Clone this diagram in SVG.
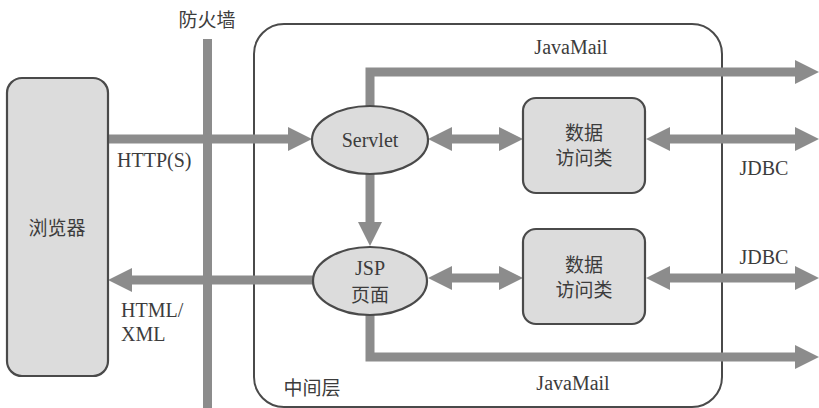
<svg xmlns="http://www.w3.org/2000/svg" width="819" height="408" viewBox="0 0 819 408">
  <style>
    .node { fill: #dcdcdc; stroke: #4a4a4a; stroke-width: 2.2; }
    .frame { fill: none; stroke: #4a4a4a; stroke-width: 2; }
    .pipe { fill: none; stroke: #8c8c8c; stroke-width: 9; }
    .lat { font-family: 'Liberation Serif', 'DejaVu Serif', serif; font-size: 20px; fill: #3c3c3c; }
    .cjk { font-family: 'Noto Sans CJK SC', 'Noto Sans', sans-serif; font-size: 19px; fill: #3c3c3c; }
  </style>
  <defs>
    <marker id="head" markerUnits="userSpaceOnUse" markerWidth="24" markerHeight="24" refX="0" refY="12" orient="auto-start-reverse">
      <path d="M0,0 L24,12 L0,24 z" fill="#8c8c8c"/>
    </marker>
  </defs>

  <rect width="819" height="408" fill="#ffffff"/>

  <!-- firewall -->
  <g id="firewall">
    <rect x="203" y="39" width="9" height="369" fill="#8c8c8c"/>
    <text class="cjk" x="207" y="27" text-anchor="middle">防火墙</text>
  </g>

  <!-- middle tier boundary -->
  <g id="middle-tier">
    <rect class="frame" x="254" y="24" width="468" height="383" rx="30"/>
    <text class="cjk" x="312" y="395" text-anchor="middle">中间层</text>
  </g>

  <!-- connectors -->
  <g id="connectors">
    <line class="pipe" x1="108" y1="139" x2="288" y2="139" marker-end="url(#head)"/>
    <polyline class="pipe" points="370,107 370,72 795,72" marker-end="url(#head)"/>
    <line class="pipe" x1="452" y1="139" x2="499" y2="139" marker-start="url(#head)" marker-end="url(#head)"/>
    <line class="pipe" x1="670" y1="139" x2="795" y2="139" marker-start="url(#head)" marker-end="url(#head)"/>
    <line class="pipe" x1="370" y1="174" x2="370" y2="222" marker-end="url(#head)"/>
    <line class="pipe" x1="313" y1="280" x2="132" y2="280" marker-end="url(#head)"/>
    <line class="pipe" x1="452" y1="278" x2="499" y2="278" marker-start="url(#head)" marker-end="url(#head)"/>
    <line class="pipe" x1="670" y1="278" x2="795" y2="278" marker-start="url(#head)" marker-end="url(#head)"/>
    <polyline class="pipe" points="370,314 370,357 795,357" marker-end="url(#head)"/>
    <text class="lat" x="117" y="167">HTTP(S)</text>
    <text class="lat" x="121" y="317">HTML/</text>
    <text class="lat" x="121" y="341">XML</text>
    <text class="lat" x="571" y="54" text-anchor="middle">JavaMail</text>
    <text class="lat" x="573" y="390" text-anchor="middle">JavaMail</text>
    <text class="lat" x="764" y="175" text-anchor="middle">JDBC</text>
    <text class="lat" x="764" y="264" text-anchor="middle">JDBC</text>
  </g>

  <g id="browser">
    <rect class="node" x="7" y="78" width="101" height="298" rx="15"/>
    <text class="cjk" x="57" y="235" text-anchor="middle">浏览器</text>
  </g>

  <g id="servlet">
    <ellipse class="node" cx="370" cy="140" rx="58" ry="34"/>
    <text class="lat" x="370" y="147" text-anchor="middle">Servlet</text>
  </g>

  <g id="jsp">
    <ellipse class="node" cx="370" cy="281" rx="57" ry="34"/>
    <text class="lat" x="370" y="275" text-anchor="middle">JSP</text>
    <text class="cjk" x="370" y="302" text-anchor="middle">页面</text>
  </g>

  <g id="dao-1">
    <rect class="node" x="523" y="98" width="122" height="95" rx="13"/>
    <text class="cjk" x="584" y="140" text-anchor="middle">数据</text>
    <text class="cjk" x="584" y="165" text-anchor="middle">访问类</text>
  </g>

  <g id="dao-2">
    <rect class="node" x="523" y="229" width="122" height="95" rx="13"/>
    <text class="cjk" x="584" y="272" text-anchor="middle">数据</text>
    <text class="cjk" x="584" y="297" text-anchor="middle">访问类</text>
  </g>
</svg>
